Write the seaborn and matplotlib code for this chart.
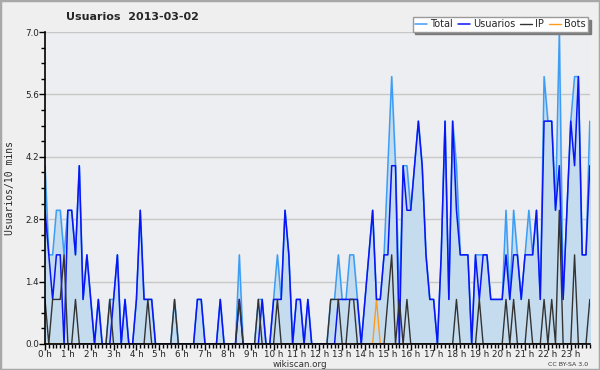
import numpy as np
import pandas as pd
import seaborn as sns
import matplotlib
matplotlib.use("Agg")
from matplotlib import pyplot as plt
from matplotlib.ticker import MultipleLocator, FixedLocator

# valores por hora (6 pontos de 10 min por hora)
usuarios = [3, 2, 1, 2, 2, 0,  3, 3, 2, 4, 1, 2,  1, 0, 1, 0, 0, 0,  1, 2, 0, 1, 0, 0,
            1, 3, 1, 1, 1, 0,  0, 0, 0, 0, 0, 0,  0, 0, 0, 0, 1, 1,  0, 0, 0, 0, 1, 0,
            0, 0, 0, 1, 0, 0,  0, 0, 0, 1, 0, 0,  1, 1, 1, 3, 2, 0,  1, 1, 0, 1, 0, 0,
            0, 0, 0, 0, 0, 1,  1, 1, 1, 1, 1, 0,  1, 2, 3, 1, 1, 2,  2, 4, 4, 0, 4, 3,
            3, 4, 5, 4, 2, 1,  1, 0, 2, 5, 1, 5,  3, 2, 2, 2, 0, 2,  1, 2, 2, 1, 1, 1,
            1, 2, 1, 2, 2, 1,  2, 2, 2, 3, 1, 5,  5, 5, 3, 4, 1, 3,  5, 4, 6, 2, 2, 4]

ip = [1, 0, 1, 1, 1, 2,  0, 0, 1, 0, 0, 0,  0, 0, 0, 0, 0, 1,  0, 0, 0, 0, 0, 0,
      0, 0, 0, 1, 0, 0,  0, 0, 0, 0, 1, 0,  0, 0, 0, 0, 0, 0,  0, 0, 0, 0, 0, 0,
      0, 0, 0, 1, 0, 0,  0, 0, 1, 0, 0, 0,  0, 1, 0, 0, 0, 0,  0, 0, 0, 0, 0, 0,
      0, 0, 0, 1, 1, 1,  0, 0, 1, 1, 0, 0,  0, 0, 0, 0, 0, 0,  1, 2, 0, 1, 0, 1,
      0, 0, 0, 0, 0, 0,  0, 0, 0, 0, 0, 0,  1, 0, 0, 0, 0, 0,  1, 0, 0, 0, 0, 0,
      0, 1, 0, 1, 0, 0,  0, 1, 0, 0, 0, 1,  0, 1, 0, 3, 0, 0,  0, 2, 0, 0, 0, 1]

bots = [0] * 87 + [1] + [0] * 56

total = [4, 2, 2, 3, 3, 2,  3, 3, 2, 4, 1, 2,  1, 0, 1, 0, 0, 1,  1, 2, 0, 1, 0, 0,
         1, 3, 1, 1, 1, 0,  0, 0, 0, 0, 1, 0,  0, 0, 0, 0, 1, 1,  0, 0, 0, 0, 1, 0,
         0, 0, 0, 2, 0, 0,  0, 0, 1, 1, 0, 0,  1, 2, 1, 3, 2, 0,  1, 1, 0, 1, 0, 0,
         0, 0, 0, 1, 1, 2,  1, 1, 2, 2, 1, 0,  1, 2, 3, 1, 1, 2,  4, 6, 4, 1, 4, 4,
         3, 4, 5, 4, 2, 1,  1, 0, 2, 5, 1, 5,  4, 2, 2, 2, 0, 2,  2, 2, 2, 1, 1, 1,
         1, 3, 1, 3, 2, 1,  2, 3, 2, 3, 1, 6,  5, 5, 3, 7, 1, 3,  5, 6, 6, 2, 2, 5]

horas = [f"{h} h" for h in range(24)]

df = pd.DataFrame({"t": np.arange(len(total)), "Total": total, "Usuarios": usuarios,
                   "IP": ip, "Bots": bots})

sns.set_style("white")
plt.rcParams["font.family"] = ["DejaVu Sans"]

fig = plt.figure(figsize=(6, 3.7), dpi=100, facecolor="#efefef")
fig.patches.append(plt.Rectangle((0, 0), 1, 1, transform=fig.transFigure, fill=False,
                                 edgecolor="#a8a8a8", linewidth=2.5))
ax = fig.add_axes([0.075, 0.0703, 0.908, 0.8432])
ax.set_facecolor("#eceef1")

ax.fill_between(df["t"], df["Total"], color="#c5dcef", zorder=1)
sns.lineplot(data=df, x="t", y="Total", ax=ax, color="#3d9df5", lw=1.1, label="Total", zorder=2)
sns.lineplot(data=df, x="t", y="Usuarios", ax=ax, color="#0a14f5", lw=1.1, label="Usuarios", zorder=3)
sns.lineplot(data=df, x="t", y="IP", ax=ax, color="#333333", lw=1.0, label="IP", zorder=4)
sns.lineplot(data=df, x="t", y="Bots", ax=ax, color="#ff9a1a", lw=1.0, label="Bots", zorder=2.5)

ax.set_xlim(0, 143)
ax.set_ylim(0, 7)
ax.yaxis.set_major_locator(FixedLocator([0, 1.4, 2.8, 4.2, 5.6, 7.0]))
ax.yaxis.set_minor_locator(MultipleLocator(0.35))
ax.set_yticklabels(["0.0", "1.4", "2.8", "4.2", "5.6", "7.0"])
ax.set_xticks(range(0, 144, 6))
ax.set_xticklabels(horas)
ax.xaxis.set_minor_locator(MultipleLocator(1))
ax.tick_params(axis="both", which="major", length=4, width=1, labelsize=6.3, pad=0.5,
               direction="out", color="black", left=True, bottom=True, labelcolor="#222222")
ax.tick_params(axis="both", which="minor", length=3, width=1, direction="out",
               color="black", left=True, bottom=True)
ax.grid(axis="y", which="major", color="#c8c8c8", lw=1)
ax.set_axisbelow(True)
for s in ["top", "right"]:
    ax.spines[s].set_visible(False)
for s in ["left", "bottom"]:
    ax.spines[s].set_color("black")
    ax.spines[s].set_linewidth(1.2)
    ax.spines[s].set_zorder(6)

ax.set_xlabel("")
ax.set_ylabel("Usuarios/10 mins", fontsize=7, family="DejaVu Sans Mono")
ax.yaxis.set_label_coords(-0.055, 0.5)

leg = ax.legend(loc="upper right", ncol=4, bbox_to_anchor=(0.997, 1.048), fontsize=7,
                frameon=True, fancybox=False,
                shadow={"ox": 1.8, "oy": -1.8, "color": "#7a7a7a", "alpha": 1},
                handlelength=1.2, handletextpad=0.35, columnspacing=0.5,
                borderpad=0.25, borderaxespad=0)
leg.get_frame().set_edgecolor("#9a9a9a")
leg.get_frame().set_facecolor("white")
leg.get_frame().set_alpha(1)
leg.set_zorder(10)

fig.text(0.22, 0.953, "Usuarios  2013-03-02", ha="center", va="center",
         fontsize=8, fontweight="bold")
fig.text(0.5, 0.014, "wikiscan.org", ha="center", va="center", fontsize=6.3, color="#333333")
fig.text(0.98, 0.014, "CC BY-SA 3.0", ha="right", va="center", fontsize=4.5, color="#333333")

fig.savefig("out.png", dpi=100, facecolor=fig.get_facecolor())
